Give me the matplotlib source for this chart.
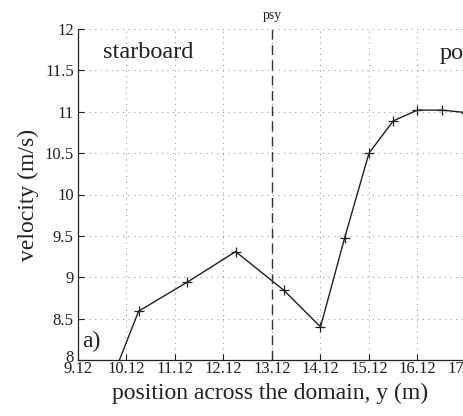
import matplotlib
matplotlib.use("Agg")
import matplotlib.pyplot as plt
from matplotlib.transforms import ScaledTranslation

plt.rcParams['font.family'] = ['Liberation Serif', 'DejaVu Serif']

# Velocity profile across the domain
position = [9.37, 10.37, 11.37, 12.37, 13.37, 14.12, 14.62, 15.12, 15.62, 16.12, 16.62, 17.12]
velocity = [7.10, 8.59, 8.94, 9.31, 8.84, 8.40, 9.48, 10.50, 10.89, 11.02, 11.02, 10.99]

psy = 13.12
x_ticks = [9.12, 10.12, 11.12, 12.12, 13.12, 14.12, 15.12, 16.12, 17.12, 18.12]
x_tick_labels = ["9.12", "10.12", "11.12", "12.12", "13.12", "14.12", "15.12", "16.12", "17.12", "18.12"]
y_ticks = [8, 8.5, 9, 9.5, 10, 10.5, 11, 11.5, 12]
y_tick_labels = ["8", "8.5", "9", "9.5", "10", "10.5", "11", "11.5", "12"]

W, H = 464, 416
fig = plt.figure(figsize=(W / 100, H / 100), dpi=100)
left, right, top, bottom = 78, 78 + 48.5 * 10, 29, 360
ax = fig.add_axes([left / W, 1 - bottom / H, (right - left) / W, (bottom - top) / H])

ax.plot(position, velocity, color='#222222', lw=1.0, marker='+', ms=7, mew=0.9, clip_on=True)
ax.axvline(psy, color='#333333', lw=1.0, ls=(0, (7, 4)))

ax.set_xlim(9.12, 19.12)
ax.set_ylim(8, 12)
ax.set_xticks(x_ticks)
ax.set_xticklabels(x_tick_labels)
ax.set_yticks(y_ticks)
ax.set_yticklabels(y_tick_labels)
ax.tick_params(direction='in', length=4, width=0.8, labelsize=12, colors='#222222')
ax.tick_params(axis='x', pad=1)
ax.tick_params(axis='y', pad=3)

# lift the lowest y label so it clears the x labels
lowest = ax.yaxis.get_major_ticks()[0].label1
lowest.set_transform(lowest.get_transform() + ScaledTranslation(0, 4 / 100, fig.dpi_scale_trans))

ax.grid(True, color='#999999', ls=(0, (1, 4)), lw=0.8)
ax.spines['top'].set_visible(False)
ax.spines['right'].set_visible(False)
for s in ('left', 'bottom'):
    ax.spines[s].set_color('#222222')
    ax.spines[s].set_linewidth(0.9)

ax.set_xlabel("position across the domain, y (m)", fontsize=17, color='#222222')
ax.xaxis.set_label_coords((270 - left) / (right - left), -(393 - bottom) / (bottom - top))
ax.xaxis.label.set_va('center')
ax.set_ylabel("velocity (m/s)", fontsize=17, color='#222222', labelpad=4)

ax.text(9.64, 11.72, "starboard", fontsize=17.5, color='#222222', va='center', ha='left')
ax.text(16.58, 11.70, "port", fontsize=17.5, color='#222222', va='center', ha='left')
ax.text(9.2, 8.22, "a)", fontsize=17, color='#222222', va='center', ha='left')
ax.text(psy, 12.09, "psy", fontsize=10, color='#222222', va='bottom', ha='center')

fig.savefig("out.png", dpi=100)
